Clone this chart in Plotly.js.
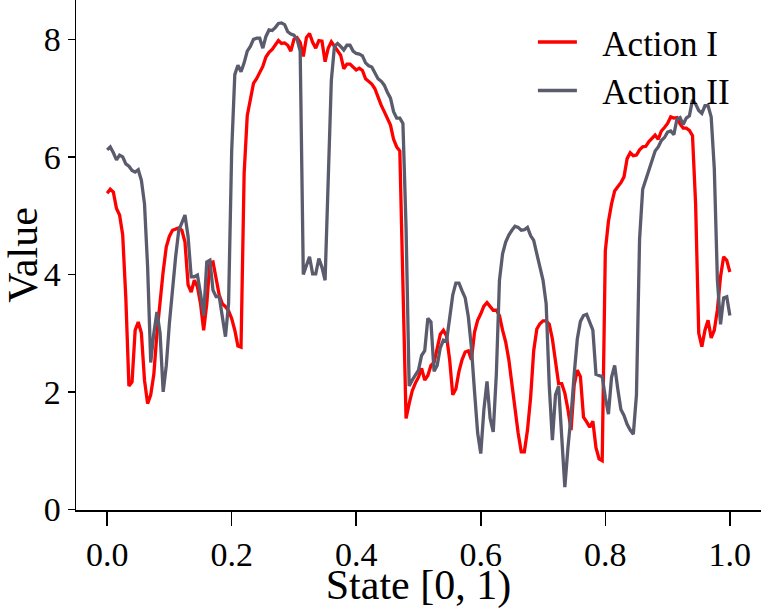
<!DOCTYPE html>
<html>
<head>
<meta charset="utf-8">
<script src="https://cdn.plot.ly/plotly-3.0.1.min.js"></script>
<style>
  html, body { margin: 0; padding: 0; background: #ffffff; }
  #chart { width: 761px; height: 609px; }
</style>
</head>
<body>
<div id="chart"></div>
<script>
// State grid: 201 evenly spaced states in [0, 1]
const stateCount = 201;
const states = Array.from({length: stateCount}, (_, i) => i / (stateCount - 1));

const seriesNames = ['Action I', 'Action II'];

const actionI = [
  5.38, 5.45, 5.40, 5.12, 5.01, 4.67, 3.60, 2.10, 2.17, 3.05,
  3.19, 3.00, 2.20, 1.80, 1.95, 2.30, 3.00, 3.56, 4.05, 4.47,
  4.65, 4.75, 4.77, 4.79, 4.75, 4.55, 3.82, 3.70, 3.90, 3.79,
  3.50, 3.05, 3.50, 4.20, 4.21, 3.95, 3.65, 3.50, 3.45, 3.38,
  3.25, 3.05, 2.78, 2.76, 5.72, 6.70, 7.00, 7.25, 7.33, 7.45,
  7.54, 7.70, 7.78, 7.83, 7.90, 7.98, 7.93, 7.94, 7.90, 7.80,
  8.00, 8.03, 7.95, 7.71, 8.03, 8.10, 7.95, 7.85, 7.98, 7.97,
  7.62, 7.85, 7.96, 7.88, 7.80, 7.73, 7.50, 7.58, 7.58, 7.52,
  7.48, 7.51, 7.47, 7.33, 7.28, 7.24, 7.16, 7.00, 6.88, 6.77,
  6.64, 6.54, 6.30, 6.17, 6.10, 3.60, 1.55, 1.80, 2.02, 2.15,
  2.25, 2.40, 2.20, 2.28, 2.45, 2.50, 2.75, 2.98, 3.05, 2.95,
  2.55, 1.95, 2.05, 2.35, 2.55, 2.68, 2.70, 2.55, 3.02, 3.22,
  3.33, 3.46, 3.52, 3.45, 3.39, 3.39, 3.30, 3.05, 2.85, 2.55,
  2.10, 1.75, 1.30, 0.98, 0.98, 1.35, 1.90, 2.70, 3.07, 3.16,
  3.21, 3.21, 3.15, 2.90, 2.50, 2.14, 2.14, 1.98, 1.70, 1.35,
  2.12, 2.37, 2.26, 1.57, 1.49, 1.40, 1.50, 1.05, 0.86, 0.83,
  4.40, 4.90, 5.20, 5.42, 5.49, 5.56, 5.66, 5.97, 6.07, 6.02,
  6.03, 6.12, 6.17, 6.18, 6.26, 6.31, 6.37, 6.30, 6.44, 6.50,
  6.57, 6.68, 6.66, 6.67, 6.56, 6.49, 6.49, 6.45, 6.36, 5.20,
  3.00, 2.77, 3.05, 3.22, 2.92, 3.05, 3.40, 3.96, 4.30, 4.24,
  4.04
];

const actionII = [
  6.12, 6.17, 6.07, 5.95, 6.03, 6.00, 5.88, 5.84, 5.77, 5.74,
  5.78, 5.60, 5.20, 4.13, 2.50, 3.00, 3.36, 3.00, 2.00, 2.45,
  3.17, 3.75, 4.30, 4.75, 4.90, 5.01, 4.64, 3.96, 3.96, 3.99,
  3.67, 3.30, 4.21, 4.24, 3.73, 3.62, 3.62, 3.30, 2.94, 3.50,
  6.10, 7.40, 7.56, 7.45, 7.60, 7.80, 7.88, 8.00, 8.02, 8.02,
  7.85, 8.05, 8.16, 8.15, 8.20, 8.27, 8.28, 8.25, 8.13, 8.09,
  8.07, 8.00, 7.80, 4.00, 4.15, 4.30, 4.01, 4.01, 4.27, 4.12,
  3.90, 5.50, 7.30, 7.88, 7.93, 7.88, 7.82, 7.90, 7.90, 7.80,
  7.76, 7.75, 7.72, 7.60, 7.55, 7.53, 7.44, 7.33, 7.29, 7.22,
  7.10, 7.00, 6.77, 6.66, 6.66, 6.57, 4.80, 2.10, 2.20, 2.30,
  2.37, 2.62, 2.70, 3.25, 3.19, 2.35, 2.45, 2.75, 2.88, 2.86,
  3.30, 3.65, 3.85, 3.85, 3.72, 3.60, 3.28, 2.75, 2.00, 1.30,
  0.95, 1.70, 2.18, 1.55, 1.32, 2.30, 3.90, 4.35, 4.55, 4.67,
  4.75, 4.82, 4.80, 4.75, 4.76, 4.80, 4.66, 4.58, 4.35, 4.10,
  3.90, 3.50, 2.10, 1.18, 1.95, 2.10, 1.20, 0.38, 1.05, 1.60,
  2.30, 2.90, 3.20, 3.30, 3.32, 3.20, 3.05, 2.30, 2.28, 2.26,
  1.91, 1.62, 2.25, 2.45, 2.05, 1.70, 1.60, 1.45, 1.35, 1.28,
  1.95, 4.60, 5.45, 5.62, 5.77, 5.92, 6.10, 6.17, 6.28, 6.33,
  6.42, 6.44, 6.38, 6.64, 6.67, 6.55, 6.66, 6.70, 6.97, 6.90,
  6.79, 6.74, 6.87, 6.87, 6.68, 5.80, 3.90, 3.15, 3.60, 3.62,
  3.30
];

const xTickVals = [0, 0.2, 0.4, 0.6, 0.8, 1.0];
const xTickText = ['0.0', '0.2', '0.4', '0.6', '0.8', '1.0'];
const yTickVals = [0, 2, 4, 6, 8];
const yTickText = ['0', '2', '4', '6', '8'];

const FONT = 'Liberation Serif, Times New Roman, serif';
// non-breaking spaces widen the gap between legend line and label
const LEGEND_GAP = '\u00a0\u00a0\u200a';

const traces = [
  {x: states, y: actionI, name: LEGEND_GAP + seriesNames[0], type: 'scatter', mode: 'lines',
   line: {color: '#ff0000', width: 3.3}},
  {x: states, y: actionII, name: LEGEND_GAP + seriesNames[1], type: 'scatter', mode: 'lines',
   line: {color: '#5b5b6e', width: 3.3}}
];

const layout = {
  width: 761, height: 609,
  margin: {l: 76, r: 0, t: 0, b: 99, pad: 0},
  paper_bgcolor: '#ffffff', plot_bgcolor: '#ffffff',
  font: {family: FONT, color: '#000000', size: 34},
  showlegend: true,
  xaxis: {
    range: [-0.05, 1.05], tickvals: xTickVals, ticktext: xTickText,
    ticks: 'outside', ticklen: 14, tickwidth: 1.5, tickcolor: '#000000',
    showline: true, linecolor: '#000000', linewidth: 1.5,
    showgrid: false, zeroline: false,
    tickfont: {family: FONT, size: 34, color: '#000000'},
    title: {text: 'State [0, 1)', font: {family: FONT, size: 42, color: '#000000'}, standoff: 6}
  },
  yaxis: {
    range: [-0.01, 8.67], tickvals: yTickVals, ticktext: yTickText,
    ticks: 'outside', ticklen: 7, tickwidth: 1.5, tickcolor: '#000000',
    showline: true, linecolor: '#000000', linewidth: 1.5,
    showgrid: false, zeroline: false,
    tickfont: {family: FONT, size: 34, color: '#000000'},
    title: {text: 'Value', font: {family: FONT, size: 42, color: '#000000'}, standoff: 8}
  },
  legend: {
    x: 0.667, y: 0.975, xanchor: 'left', yanchor: 'top',
    itemwidth: 39,
    bgcolor: 'rgba(0,0,0,0)', borderwidth: 0,
    font: {family: FONT, size: 35, color: '#000000'}
  }
};

Plotly.newPlot('chart', traces, layout, {displayModeBar: false, staticPlot: true});
</script>
</body>
</html>
